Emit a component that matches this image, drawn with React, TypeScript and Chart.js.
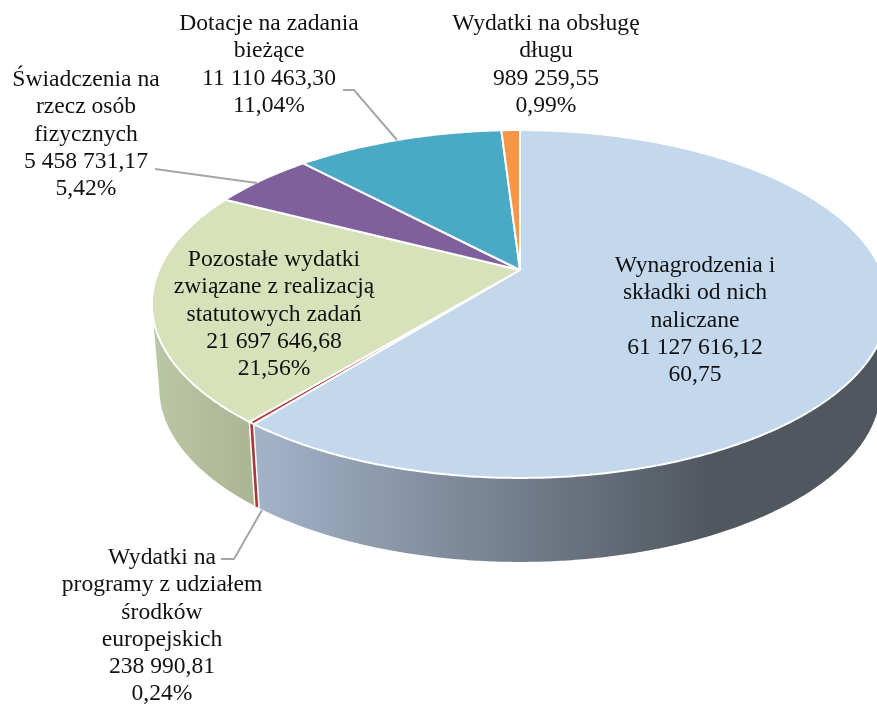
import React, { useEffect, useRef } from "react";
import { Chart, registerables } from "chart.js";

Chart.register(...registerables);

const names = [
  "Wynagrodzenia i składki od nich naliczane",
  "Wydatki na programy z udziałem środków europejskich",
  "Pozostałe wydatki związane z realizacją statutowych zadań",
  "Świadczenia na rzecz osób fizycznych",
  "Dotacje na zadania bieżące",
  "Wydatki na obsługę długu",
];
const values = [61127616.12, 238990.81, 21697646.68, 5458731.17, 11110463.3, 989259.55];
const faceColors = ["#c3d7ed", "#b5393a", "#d7e1ba", "#80609c", "#4aa9c4", "#f79646"];
const wallColors: (string | [string, string])[] = [
  ["#a2b2c8", "#50575f"],
  "#a8383a",
  ["#bac5a3", "#acb592"],
  "#5f4775",
  "#367f93",
  "#b96f32",
];

const labelLines = [
  ["Wynagrodzenia i", "składki od nich", "naliczane", "61 127 616,12", "60,75"],
  ["Wydatki na", "programy z udziałem", "środków", "europejskich", "238 990,81", "0,24%"],
  ["Pozostałe wydatki", "związane z realizacją", "statutowych zadań", "21 697 646,68", "21,56%"],
  ["Świadczenia na", "rzecz osób", "fizycznych", "5 458 731,17", "5,42%"],
  ["Dotacje na zadania", "bieżące", "11 110 463,30", "11,04%"],
  ["Wydatki na obsługę", "długu", "989 259,55", "0,99%"],
];
const labelAnchors = [
  [695, 266],
  [162, 558],
  [274, 260],
  [86, 80],
  [269, 24],
  [546, 24],
];
const leaders = [
  [[221, 559], [234, 559], [262, 510]],
  [[155, 169], [257, 183]],
  [[343, 90], [354, 90], [397, 140]],
];

// Perspective projection of the unit circle on to the tilted pie's top face
const CX = 520;
const CY = 270;
const RX = 361;
const RY = 167.3;
const K = 0.1954;
const DEPTH = 84;
const SHRINK = 0.98;

const top = (a: number): [number, number] => {
  const d = 1 - K * Math.sin(a);
  return [CX + (RX * Math.cos(a)) / d, CY + (RY * Math.sin(a)) / d];
};
const bottom = (a: number): [number, number] => {
  const [x, y] = top(a);
  return [CX + (x - CX) * SHRINK, y + DEPTH];
};
const sweep = (a0: number, a1: number) => {
  const n = Math.max(2, Math.ceil(((a1 - a0) * 180) / Math.PI / 0.5));
  return Array.from({ length: n + 1 }, (_, i) => a0 + ((a1 - a0) * i) / n);
};

function drawFace(this: any, ctx: CanvasRenderingContext2D) {
  ctx.save();
  ctx.beginPath();
  ctx.moveTo(CX, CY);
  sweep(this.startAngle, this.endAngle).forEach((a) => ctx.lineTo(...top(a)));
  ctx.closePath();
  ctx.fillStyle = this.options.backgroundColor;
  ctx.fill();
  ctx.strokeStyle = "#ffffff";
  ctx.lineWidth = 2;
  ctx.lineJoin = "round";
  ctx.stroke();
  ctx.restore();
}

const pie3d = {
  id: "pie3d",
  beforeDatasetsDraw(chart: any) {
    const { ctx } = chart;
    const arcs = chart.getDatasetMeta(0).data;
    arcs.forEach((arc: any, i: number) => {
      const angles = sweep(arc.startAngle, arc.endAngle);
      // Only the part below the widest point of the top face has a visible wall
      const front = angles.filter((a) => Math.sin(a) >= K);
      if (front.length >= 2) {
        const c = wallColors[i];
        let fill: any = c;
        if (Array.isArray(c)) {
          const xs = front.map((a) => bottom(a)[0]);
          const x0 = Math.min(...xs);
          const x1 = i === 0 ? 710 : Math.max(...xs);
          fill = ctx.createLinearGradient(x0, 0, x1, 0);
          fill.addColorStop(0, c[0]);
          fill.addColorStop(1, c[1]);
        }
        ctx.save();
        ctx.beginPath();
        front.forEach((a, j) => (j ? ctx.lineTo(...top(a)) : ctx.moveTo(...top(a))));
        [...front].reverse().forEach((a) => ctx.lineTo(...bottom(a)));
        ctx.closePath();
        ctx.fillStyle = fill;
        ctx.fill();
        ctx.restore();
      }
      arc.draw = drawFace;
    });
    // White seam between neighbouring wall sections
    arcs.forEach((arc: any) => {
      const a = arc.startAngle;
      if (Math.sin(a) > K) {
        ctx.save();
        ctx.strokeStyle = "#ffffff";
        ctx.lineWidth = 1.5;
        ctx.beginPath();
        ctx.moveTo(...top(a));
        ctx.lineTo(...bottom(a));
        ctx.stroke();
        ctx.restore();
      }
    });
  },
  afterDraw(chart: any) {
    const { ctx } = chart;
    ctx.save();
    ctx.strokeStyle = "#a6a6a6";
    ctx.lineWidth = 2;
    leaders.forEach((pts) => {
      ctx.beginPath();
      pts.forEach(([x, y], j) => (j ? ctx.lineTo(x, y) : ctx.moveTo(x, y)));
      ctx.stroke();
    });
    ctx.fillStyle = "#111111";
    ctx.font = '23.6px "Liberation Serif"';
    ctx.textAlign = "center";
    ctx.textBaseline = "middle";
    labelLines.forEach((lines, i) => {
      const [x, y] = labelAnchors[i];
      lines.forEach((line, j) => ctx.fillText(line, x, y + j * 27.2));
    });
    ctx.restore();
  },
};

export default function App() {
  const ref = useRef<HTMLCanvasElement>(null);
  useEffect(() => {
    document.body.style.margin = "0";
    const chart = new Chart(ref.current!, {
      type: "pie",
      data: {
        labels: names,
        datasets: [{ data: values, backgroundColor: faceColors, borderWidth: 0 }],
      },
      options: {
        animation: false,
        responsive: false,
        devicePixelRatio: 1,
        plugins: { legend: { display: false }, tooltip: { enabled: false } },
      },
      plugins: [pie3d],
    } as any);
    return () => chart.destroy();
  }, []);
  return (
    <canvas
      ref={ref}
      width={877}
      height={705}
      style={{ display: "block", position: "absolute", left: 0, top: 0 }}
    />
  );
}
